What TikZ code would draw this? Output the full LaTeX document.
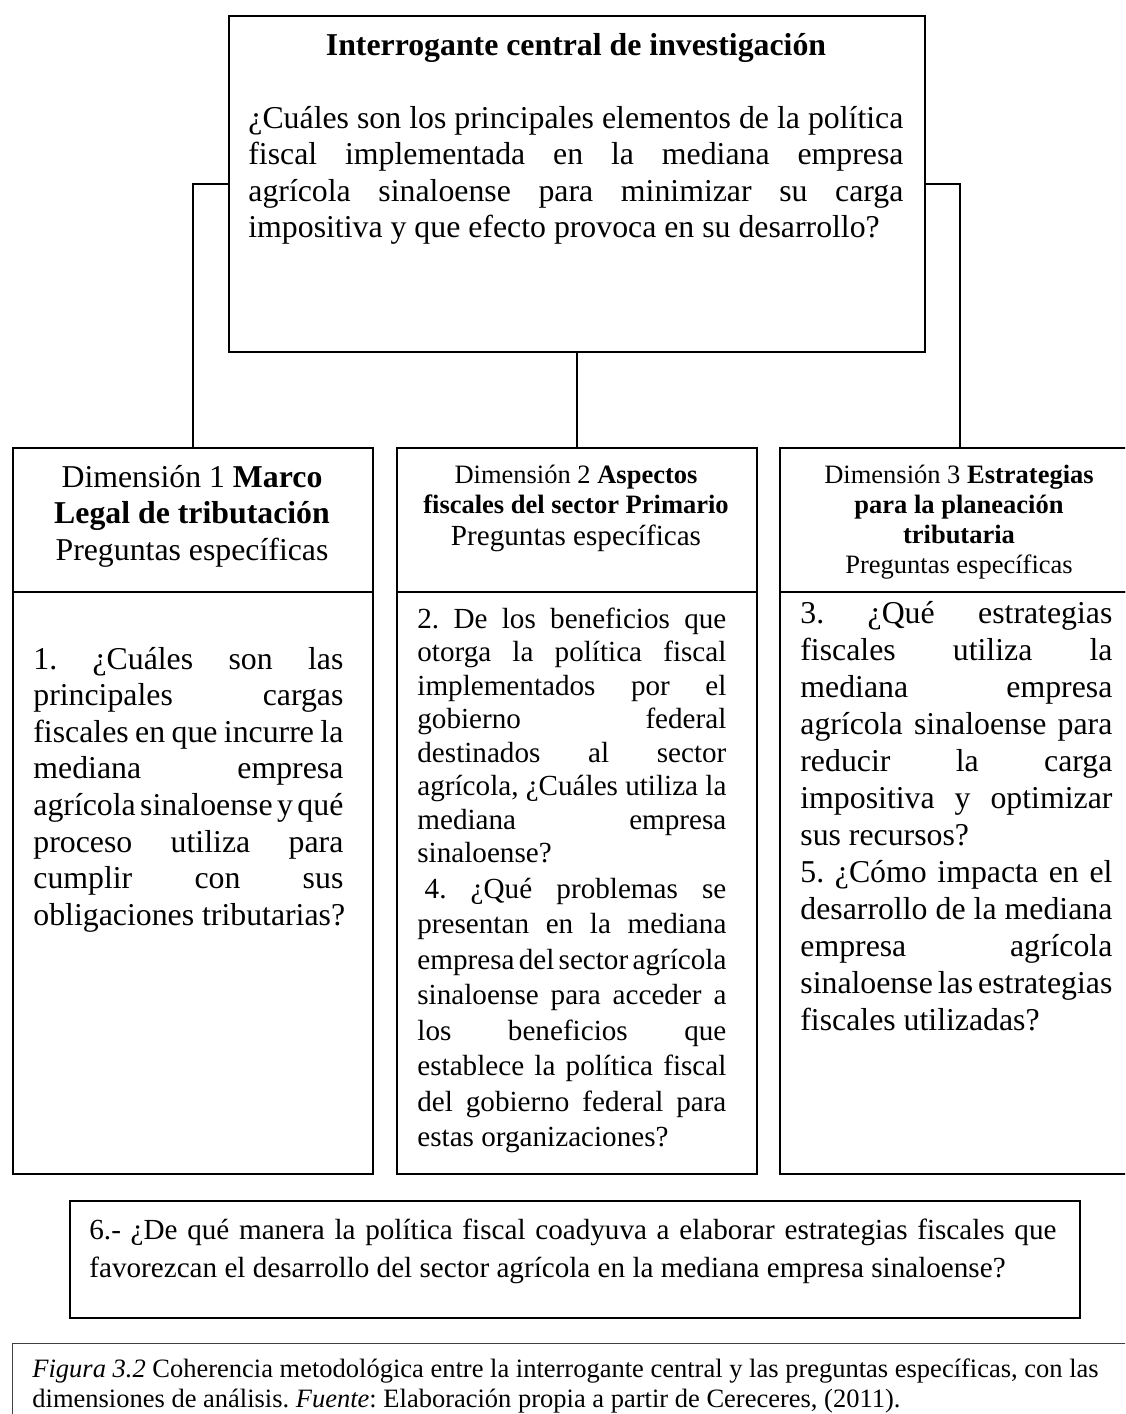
\documentclass[tikz,border=0pt]{standalone}
\usepackage{fontspec}
\setmainfont{Liberation Serif}
% a justified line filled out to the column width \bw, and a line kept at its natural width
\newcommand\bw{100pt}
\newcommand\jline[1]{\leavevmode\hbox to \bw{\frenchspacing\spaceskip=.25em plus 1fil minus .15em\xspaceskip=\spaceskip\relax #1}}
\newcommand\lline[1]{\leavevmode\hbox{\frenchspacing\spaceskip=.25em\xspaceskip=\spaceskip\relax #1}}
\tikzset{
  frame/.style={draw=black, line width=1pt, inner sep=0pt, anchor=north west},
  link/.style={draw=black, line width=0.7pt},
  txt/.style={inner sep=0pt, anchor=base west},
  ctr/.style={inner sep=0pt, anchor=base},
  ptwelve/.style={font=\fontsize{15.9}{18.3}\selectfont},
  peleven/.style={font=\fontsize{14.575}{16.75}\selectfont},
  pten/.style={font=\fontsize{13.25}{15.25}\selectfont},
}
\begin{document}
\begin{tikzpicture}[x=0.5pt,y=-0.5pt]
\clip (0,0) rectangle (1125,1414);
\fill[white] (0,0) rectangle (1125,1414);

% central question
\node[frame, minimum width=348pt, minimum height=168pt] (central) at (228,15) {};
\node[ctr, ptwelve] (title) at (576,55) {\textbf{Interrogante central de investigación}};
\node[txt, ptwelve, text width=327.5pt] (centraltext) at (248,128) {%
\renewcommand\bw{327.5pt}%
\jline{¿Cuáles son los principales elementos de la política}\\
\jline{fiscal implementada en la mediana empresa}\\
\jline{agrícola sinaloense para minimizar su carga}\\
\lline{impositiva y que efecto provoca en su desarrollo?}};

% dimension headers
\node[frame, minimum width=180pt, minimum height=72pt] (dimAhead) at (12,447) {};
\node[frame, minimum width=180pt, minimum height=72pt] (dimBhead) at (396,447) {};
\node[frame, minimum width=180pt, minimum height=72pt] (dimChead) at (779,447) {};

% dimension bodies
\node[frame, minimum width=180pt, minimum height=291pt] (dimAbody) at (12,591) {};
\node[frame, minimum width=180pt, minimum height=291pt] (dimBbody) at (396,591) {};
\node[frame, minimum width=180pt, minimum height=291pt] (dimCbody) at (779,591) {};

% connectors
\draw[link] (central.west) -| (dimAhead.north);
\draw[link] (central.east) -| (dimChead.north);
\draw[link] (central.south) -- (dimBhead.north);

% header texts
\node[ctr, ptwelve] (dimAl1) at (192,487) {\lline{Dimensión 1 \textbf{Marco}}};
\node[ctr, ptwelve] (dimAl2) at (192,523.6) {\lline{\textbf{Legal de tributación}}};
\node[ctr, ptwelve] (dimAl3) at (192,560.2) {\lline{Preguntas específicas}};

\node[ctr, pten] (dimBl1) at (576,483) {\lline{Dimensión 2 \textbf{Aspectos}}};
\node[ctr, pten] (dimBl2) at (576,513.5) {\lline{\textbf{fiscales del sector Primario}}};
\node[ctr, peleven] (dimBl3) at (576,545) {\lline{Preguntas específicas}};

\node[ctr, pten] (dimCl1) at (959,483) {\lline{Dimensión 3 \textbf{Estrategias}}};
\node[ctr, pten] (dimCl2) at (959,513) {\lline{\textbf{para la planeación}}};
\node[ctr, pten] (dimCl3) at (959,543) {\lline{\textbf{tributaria}}};
\node[ctr, pten] (dimCl4) at (959,573) {\lline{Preguntas específicas}};

% specific questions
\node[txt, ptwelve, text width=155pt] (qone) at (33,669) {%
\renewcommand\bw{155pt}%
\jline{1. ¿Cuáles son las}\\
\jline{principales cargas}\\
\jline{fiscales en que incurre la}\\
\jline{mediana empresa}\\
\jline{agrícola sinaloense y qué}\\
\jline{proceso utiliza para}\\
\jline{cumplir con sus}\\
\lline{obligaciones tributarias?}};

\node[txt, peleven, text width=154.5pt] (qtwo) at (417,628) {%
\renewcommand\bw{154.5pt}%
\jline{2. De los beneficios que}\\
\jline{otorga la política fiscal}\\
\jline{implementados por el}\\
\jline{gobierno federal}\\
\jline{destinados al sector}\\
\jline{agrícola, ¿Cuáles utiliza la}\\
\jline{mediana empresa}\\
\lline{sinaloense?}};

\node[txt, text width=154.5pt, font=\fontsize{14.575}{17.75}\selectfont] (qfour) at (417,898) {%
\renewcommand\bw{154.5pt}%
\jline{\hspace*{.25em}4. ¿Qué problemas se}\\
\jline{presentan en la mediana}\\
\jline{empresa del sector agrícola}\\
\jline{sinaloense para acceder a}\\
\jline{los beneficios que}\\
\jline{establece la política fiscal}\\
\jline{del gobierno federal para}\\
\lline{estas organizaciones?}};

\node[txt, text width=156pt, font=\fontsize{15.9}{18.5}\selectfont] (qthree) at (800,623) {%
\renewcommand\bw{156pt}%
\jline{3. ¿Qué estrategias}\\
\jline{fiscales utiliza la}\\
\jline{mediana empresa}\\
\jline{agrícola sinaloense para}\\
\jline{reducir la carga}\\
\jline{impositiva y optimizar}\\
\lline{sus recursos?}\\
\jline{5. ¿Cómo impacta en el}\\
\jline{desarrollo de la mediana}\\
\jline{empresa agrícola}\\
\jline{sinaloense las estrategias}\\
\lline{fiscales utilizadas?}};

% closing question
\node[frame, minimum width=505pt, minimum height=58.5pt] (qsix) at (69,1200) {};
\node[txt, text width=483.5pt, font=\fontsize{14.575}{19}\selectfont] (qsixtext) at (89,1239) {%
\renewcommand\bw{483.5pt}%
\jline{6.- ¿De qué manera la política fiscal coadyuva a elaborar estrategias fiscales que}\\
\lline{favorezcan el desarrollo del sector agrícola en la mediana empresa sinaloense?}};

% caption
\node[frame, draw=black!75, line width=0.6pt, minimum width=570pt, minimum height=50pt] (caption) at (12,1343) {};
\node[txt, pten, text width=545pt] (captiontext) at (32,1377) {%
\lline{\textit{Figura 3.2} Coherencia metodológica entre la interrogante central y las preguntas específicas, con las}\\
\lline{dimensiones de análisis. \textit{Fuente}: Elaboración propia a partir de Cereceres, (2011).}};
\end{tikzpicture}
\end{document}
